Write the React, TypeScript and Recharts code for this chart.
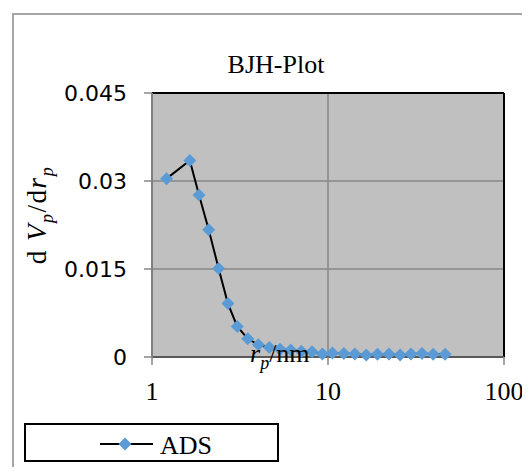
import React from 'react';
import { LineChart, Line, XAxis, YAxis, CartesianGrid, ReferenceLine, Label } from 'recharts';

const poreRadius = [1.21, 1.64, 1.85, 2.10, 2.39, 2.70, 3.05, 3.50, 4.02, 4.64, 5.34, 6.14, 7.05, 8.11, 9.3, 10.6, 12.3, 14.2, 16.5, 19.1, 22.2, 25.7, 29.6, 34.2, 39.6, 46.3];
const adsValues = [0.0304, 0.0335, 0.0276, 0.0217, 0.0151, 0.0091, 0.0052, 0.0031, 0.0021, 0.0016, 0.0013, 0.0012, 0.0010, 0.0009, 0.0005, 0.0007, 0.0006, 0.0005, 0.00035, 0.00045, 0.0005, 0.00035, 0.0005, 0.0006, 0.00045, 0.00045];
const xTicks = [1, 10, 100];
const yTicks = [0, 0.015, 0.03, 0.045];
const seriesName = 'ADS';
const title = 'BJH-Plot';

const data = poreRadius.map((r, i) => ({ r, ads: adsValues[i] }));

const SERIF = '"Liberation Serif", "Times New Roman", serif';
const SANS = '"DejaVu Sans", sans-serif';
const BLUE = '#5B9BD5';

const Diamond = (props: any) => {
  const { cx, cy, index } = props;
  if (cx == null || cy == null) return <g key={index} />;
  const s = 6.5;
  return <path key={index} d={`M${cx},${cy - s}L${cx + s},${cy}L${cx},${cy + s}L${cx - s},${cy}Z`} fill={BLUE} />;
};

const YLabel = (props: any) => {
  const vb = props.viewBox || { x: 0, y: 85 };
  const bx = vb.x + 38;
  const cy = 207;
  return (
    <text x={bx} y={cy} transform={`rotate(-90, ${bx}, ${cy})`} textAnchor="middle" fontFamily={SERIF} fontSize={27} fill="#000" letterSpacing={1.5}>
      <tspan>d </tspan>
      <tspan fontStyle="italic">V</tspan>
      <tspan fontStyle="italic" fontSize={18} dy={7}>p</tspan>
      <tspan dy={-7}>/d</tspan>
      <tspan fontStyle="italic">r</tspan>
      <tspan fontStyle="italic" fontSize={18} dy={7}>p</tspan>
    </text>
  );
};

export default function App() {
  return (
    <div style={{ position: 'relative', width: 522, height: 459, overflow: 'hidden', background: '#fff' }}>
      <div style={{ position: 'absolute', left: 4, top: 5, right: -10, bottom: -10, borderLeft: '2px solid #a6a6a6', borderTop: '2px solid #a6a6a6' }} />
      <div style={{ position: 'absolute', left: 168, width: 200, top: 44, textAlign: 'center', fontFamily: SERIF, fontSize: 26, lineHeight: '26px', color: '#000' }}>{title}</div>
      <div style={{ position: 'absolute', left: 0, top: 0 }}>
        <LineChart width={522} height={459} data={data} margin={{ top: 85, right: 26, bottom: 0, left: 0 }}>
          <CartesianGrid fill="#C0C0C0" stroke="#878787" strokeWidth={1.5} fillOpacity={1} />
          <XAxis
            dataKey="r"
            type="number"
            scale="log"
            domain={[1, 100]}
            ticks={xTicks}
            allowDataOverflow
            height={110}
            tickSize={8}
            tickMargin={17}
            axisLine={{ stroke: '#595959', strokeWidth: 2 }}
            tickLine={{ stroke: '#868686', strokeWidth: 1.5 }}
            tick={{ fontFamily: SERIF, fontSize: 26, fill: '#000' }}
            interval={0}
          />
          <YAxis
            type="number"
            domain={[0, 0.045]}
            ticks={yTicks}
            width={144}
            tickSize={8}
            tickMargin={17}
            axisLine={{ stroke: '#7f7f7f', strokeWidth: 2 }}
            tickLine={{ stroke: '#868686', strokeWidth: 1.5 }}
            tick={{ fontFamily: SANS, fontSize: 22, fill: '#000' }}
            interval={0}
          >
            <Label content={<YLabel />} />
          </YAxis>
          <ReferenceLine y={0.045} stroke="#000" strokeWidth={2} ifOverflow="visible" />
          <ReferenceLine x={100} stroke="#000" strokeWidth={2} ifOverflow="visible" />
          <Line
            type="linear"
            dataKey="ads"
            name={seriesName}
            stroke="#000"
            strokeWidth={2}
            dot={Diamond}
            activeDot={false}
            isAnimationActive={false}
          />
        </LineChart>
      </div>
      <svg width={120} height={40} style={{ position: 'absolute', left: 236, top: 328, pointerEvents: 'none' }}>
        <text x={6} y={26} fontFamily={SERIF} fontSize={26} fill="#000">
          <tspan fontStyle="italic">r</tspan>
          <tspan fontStyle="italic" fontSize={18} dy={7}>p</tspan>
          <tspan dy={-7}>/nm</tspan>
        </text>
      </svg>
      <div style={{ position: 'absolute', left: 16, top: 415, width: 255, height: 39, border: '2px solid #000', boxSizing: 'border-box', background: '#fff' }}>
        <svg width={251} height={35} style={{ display: 'block' }}>
          <line x1={74} x2={127} y1={19} y2={19} stroke="#000" strokeWidth={2} />
          <path d="M99,12.5L105.5,19L99,25.5L92.5,19Z" fill={BLUE} />
          <text x={134} y={29} fontFamily={SERIF} fontSize={26} fill="#000">{seriesName}</text>
        </svg>
      </div>
    </div>
  );
}
